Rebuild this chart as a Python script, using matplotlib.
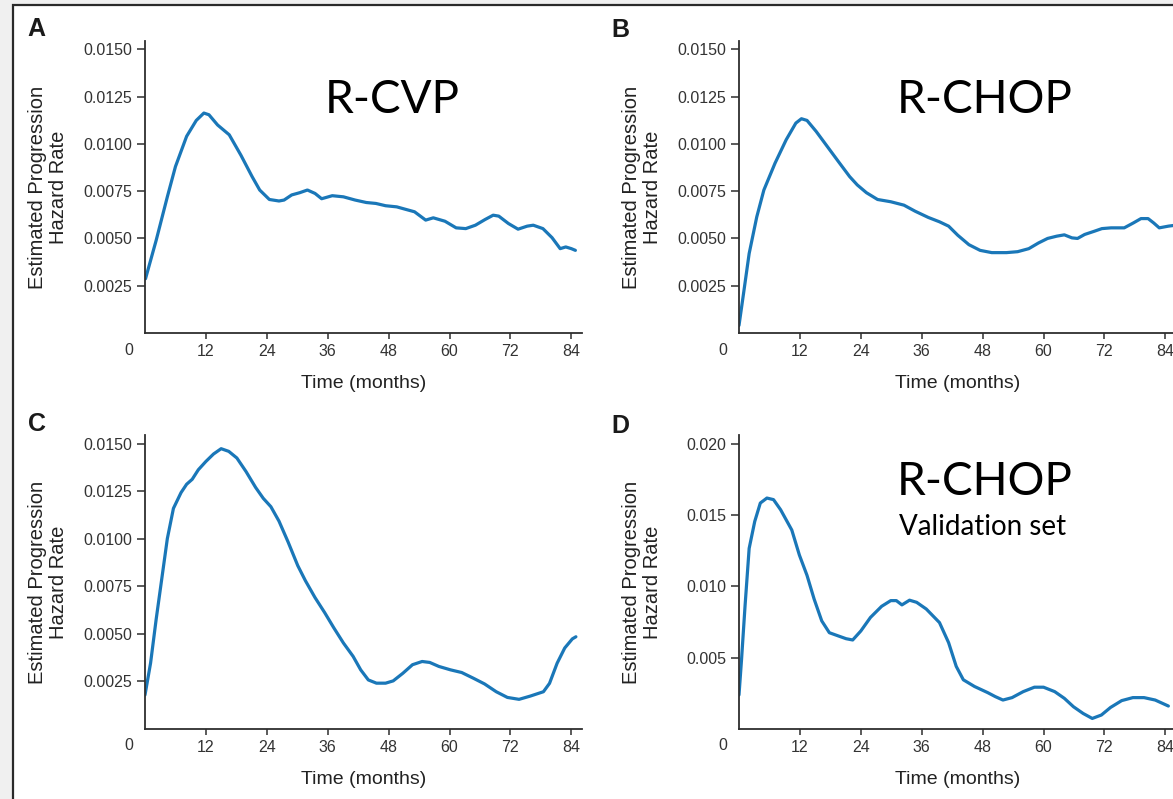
import matplotlib.pyplot as plt
from matplotlib.patches import Rectangle

# months / hazard values
a_t = [0.1, 2.2, 4.4, 6.0, 8.2, 10.1, 11.6, 12.6, 14.3, 16.6, 18.9, 21.1, 22.6, 24.5, 26.4,
       27.4, 28.9, 30.5, 32.0, 33.5, 34.8, 36.9, 39.1, 41.4, 43.6, 45.5, 47.4, 49.6, 51.2,
       53.1, 55.3, 56.8, 59.1, 61.3, 63.2, 65.1, 67.0, 68.6, 69.7, 71.6, 73.5, 75.3, 76.5,
       78.4, 80.2, 81.8, 82.9, 84.0, 84.8]
a_v = [0.00287, 0.0049, 0.0072, 0.0088, 0.0104, 0.01124, 0.01163, 0.01154, 0.0110, 0.01048,
       0.0094, 0.00827, 0.00756, 0.00706, 0.00698, 0.00703, 0.0073, 0.00742, 0.00756, 0.00738,
       0.0071, 0.00726, 0.0072, 0.00703, 0.0069, 0.00685, 0.00673, 0.00667, 0.00655, 0.00641,
       0.00597, 0.00609, 0.00591, 0.00556, 0.00552, 0.0057, 0.006, 0.00623, 0.00618, 0.00579,
       0.00549, 0.00565, 0.0057, 0.00552, 0.00504, 0.00446, 0.00455, 0.00446, 0.00437]

b_t = [0.0, 0.9, 2.0, 3.5, 4.9, 7.1, 9.3, 11.2, 12.3, 13.4, 15.2, 17.4, 19.6, 21.8, 23.3,
       25.1, 27.3, 29.9, 32.5, 34.7, 37.3, 39.5, 41.3, 43.1, 45.3, 47.5, 49.8, 52.7, 54.9,
       57.1, 59.0, 60.8, 62.6, 64.1, 65.6, 66.7, 68.1, 70.0, 71.5, 73.3, 75.9, 77.7, 79.2,
       80.6, 81.7, 82.8, 84.6, 86.0]
b_v = [0.0004, 0.0021, 0.0042, 0.00614, 0.00756, 0.00898, 0.01022, 0.0111, 0.01133, 0.01124,
       0.01066, 0.00986, 0.00906, 0.00827, 0.00783, 0.00742, 0.00706, 0.00694, 0.00676, 0.00644,
       0.00611, 0.00588, 0.00565, 0.00517, 0.00467, 0.00437, 0.00425, 0.00425, 0.0043, 0.00446,
       0.00476, 0.005, 0.00512, 0.00519, 0.00503, 0.005, 0.00521, 0.00538, 0.00552, 0.00556,
       0.00556, 0.00582, 0.00605, 0.00605, 0.00582, 0.00556, 0.00565, 0.0057]

c_t = [0.0, 1.1, 2.2, 3.3, 4.4, 5.6, 7.1, 8.2, 9.3, 10.5, 12.0, 13.5, 15.0, 16.5, 18.1, 19.9,
       21.8, 23.3, 24.8, 26.4, 28.2, 30.1, 31.6, 33.5, 35.4, 37.2, 39.1, 41.0, 42.5, 44.0, 45.6,
       47.4, 48.9, 50.8, 52.7, 54.6, 56.1, 57.9, 60.2, 62.4, 64.7, 66.9, 69.2, 71.4, 73.7, 75.9,
       78.5, 79.7, 81.2, 82.7, 84.2, 84.9]
c_v = [0.00179, 0.00347, 0.00577, 0.00789, 0.01001, 0.0116, 0.01243, 0.01287, 0.01313, 0.01363,
       0.01407, 0.01446, 0.01474, 0.0146, 0.01425, 0.01354, 0.0127, 0.01213, 0.01169, 0.01093,
       0.00983, 0.00859, 0.0078, 0.00691, 0.00612, 0.00532, 0.00452, 0.00382, 0.00311, 0.00258,
       0.00241, 0.00241, 0.00253, 0.00293, 0.00338, 0.00355, 0.0035, 0.00329, 0.00311, 0.00297,
       0.00267, 0.00237, 0.00196, 0.00166, 0.00156, 0.00173, 0.00196, 0.0024, 0.00346, 0.00426,
       0.00474, 0.00485]

d_t = [0.0, 0.5, 1.2, 2.0, 3.1, 4.2, 5.5, 6.8, 8.2, 9.3, 10.4, 11.9, 13.4, 14.8, 16.3, 17.8,
       19.6, 21.1, 22.4, 24.0, 25.9, 28.1, 29.9, 31.0, 32.1, 33.6, 35.0, 36.9, 39.5, 41.3, 42.8,
       44.2, 46.4, 49.0, 50.5, 52.0, 53.8, 56.0, 58.2, 60.0, 62.2, 64.1, 65.9, 67.8, 69.6, 71.4,
       73.2, 75.4, 77.6, 79.8, 82.0, 84.6]
d_v = [0.00239, 0.00487, 0.00867, 0.01266, 0.01455, 0.01584, 0.01619, 0.01608, 0.01537, 0.01466,
       0.01395, 0.01219, 0.01077, 0.00911, 0.00758, 0.00675, 0.00652, 0.00633, 0.00624, 0.00687,
       0.00782, 0.0086, 0.009, 0.009, 0.0087, 0.00903, 0.00888, 0.00841, 0.00746, 0.00605,
       0.00439, 0.00345, 0.00298, 0.00255, 0.00227, 0.00203, 0.0022, 0.00262, 0.00293, 0.00293,
       0.00262, 0.00215, 0.00156, 0.00109, 0.00074, 0.00098, 0.00151, 0.00199, 0.0022, 0.0022,
       0.00203, 0.00161]

x_ticks = [12, 24, 36, 48, 60, 72, 84]
y_ticks_abc = [0.0025, 0.0050, 0.0075, 0.0100, 0.0125, 0.0150]
y_ticks_d = [0.005, 0.010, 0.015, 0.020]

panels = [
    ('A', a_t, a_v, y_ticks_abc, '%.4f', 0.01544, ['R-CVP']),
    ('B', b_t, b_v, y_ticks_abc, '%.4f', 0.01544, ['R-CHOP']),
    ('C', c_t, c_v, y_ticks_abc, '%.4f', 0.01546, []),
    ('D', d_t, d_v, y_ticks_d, '%.3f', 0.02061, ['R-CHOP', 'Validation set']),
]

W, H = 1173, 799
plt.rcParams['font.family'] = ['Liberation Sans', 'DejaVu Sans']
fig = plt.figure(figsize=(W / 100, H / 100), dpi=100)
fig.patch.set_facecolor('#f0f0f0')
fig.add_artist(Rectangle((13 / W, -0.05), 1.1, 1 - 5 / H + 0.05, transform=fig.transFigure,
                         facecolor='white', edgecolor='#2a2a2a', linewidth=1.6, zorder=-1))

# pixel boxes: left, top, right, bottom
boxes = [(145, 41, 582, 333), (739, 41, 1176, 333), (145, 435, 582, 729), (739, 435, 1176, 729)]
letters_xy = [(36, 29), (620, 30), (37, 424), (620, 426)]
note_xy = {'A': [(392, 100)], 'B': [(985, 100)], 'D': [(985, 482), (983, 527)]}

blue = '#1a77b8'
grey = '#2e2e2e'

for (lab, t, v, yt, fmt, ytop, notes), (l, tp, r, b), (lx, ly) in zip(panels, boxes, letters_xy):
    ax = fig.add_axes([l / W, 1 - b / H, (r - l) / W, (b - tp) / H])
    ax.plot(t, v, color=blue, lw=2.3, solid_joinstyle='round', solid_capstyle='round')
    ax.set_xlim(0, 86.1)
    ax.set_ylim(0, ytop)
    ax.set_xticks(x_ticks)
    ax.set_yticks(yt)
    ax.set_yticklabels([fmt % y for y in yt])
    for s in ['top', 'right']:
        ax.spines[s].set_visible(False)
    for s in ['left', 'bottom']:
        ax.spines[s].set_color(grey)
        ax.spines[s].set_linewidth(1.3)
    ax.tick_params(axis='both', colors=grey, labelcolor='#333333', labelsize=11.5,
                   width=1.1, pad=3.5)
    ax.tick_params(axis='x', length=4.3)
    ax.tick_params(axis='y', length=5.5)
    ax.text(-16 / (r - l), -17 / (b - tp), '0', transform=ax.transAxes, ha='center',
            va='center', fontsize=11.5, color='#333333')
    ax.text(0.5, -50 / (b - tp), 'Time (months)', transform=ax.transAxes, ha='center',
            va='center', fontsize=14, color='#222222')
    ax.text(-97 / (r - l), 0.5, 'Estimated Progression\nHazard Rate', transform=ax.transAxes,
            rotation=90, ha='center', va='center', fontsize=14.5, color='#222222',
            linespacing=1.1)
    fig.text(lx / W, 1 - ly / H, lab, ha='center', va='center', fontsize=18,
             fontweight='bold', color='#1a1a1a')
    for i, txt in enumerate(notes):
        nx, ny = note_xy[lab][i]
        fig.text(nx / W, 1 - ny / H, txt, ha='center', va='center', family='Lato',
                 fontsize=33 if i == 0 else 20, color='black')

fig.savefig('out.png', dpi=100, facecolor=fig.get_facecolor())
